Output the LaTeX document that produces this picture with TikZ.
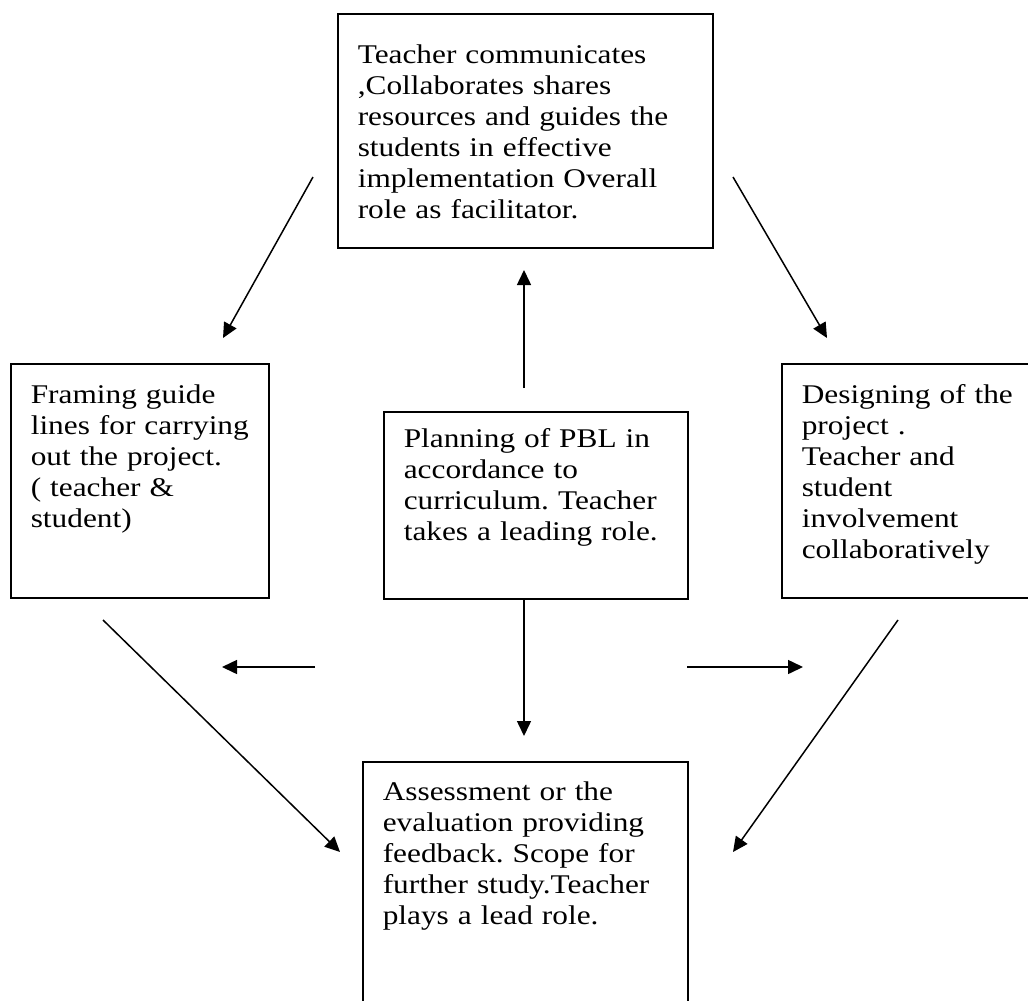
\documentclass[tikz,border=0pt]{standalone}
\usepackage{fontspec}
\setmainfont[FakeStretch = 1.16]{Liberation Serif}
\usetikzlibrary{arrows.meta}
\newcommand\padleft{\leftskip = 20pt\relax\frenchspacing}

\begin{document}
\begin{tikzpicture} [x = 1pt, y = -1pt,
    card/.style = {draw, line width = 1.6pt, anchor = north west,
      align = left, inner xsep = 0pt, inner ysep = 0pt,
      font = \fontsize{27pt}{31pt}\selectfont},
    flow/.style = {line width = 1.5pt,
      -{Triangle[length = 15pt, width = 14pt]}}]
    \useasboundingbox (0, 0) rectangle (1028, 1001);
    \clip (0, 0) rectangle (1028, 1001);

    \node[card, text width = 375pt, text height = 50pt, text depth = 184pt]
      (role) at (337, 13)
      {\padleft Teacher communicates\\ ,Collaborates shares\\ resources and guides the\\
       students in effective\\ implementation Overall\\ role as facilitator.\par};
    \node[card, text width = 258pt, text height = 40pt, text depth = 194pt]
      (frame) at (10, 363)
      {\padleft Framing guide\\ lines for carrying\\ out the project.\\ ( teacher \&\\ student)\par};
    \node[card, text width = 304pt, text height = 36pt, text depth = 151pt]
      (plan) at (383, 411)
      {\padleft Planning of PBL in\\ accordance to\\ curriculum. Teacher\\ takes a leading role.\par};
    \node[card, text width = 300pt, text height = 40pt, text depth = 194pt]
      (design) at (781, 363)
      {\padleft Designing of the\\ project .\\ Teacher and\\ student\\ involvement\\ collaboratively\par};
    \node[card, text width = 325pt, text height = 39pt, text depth = 281pt]
      (assess) at (362, 761)
      {\padleft Assessment or the\\ evaluation providing\\ feedback. Scope for\\
       further study.Teacher\\ plays a lead role.\par};

    \coordinate (up-s) at (524, 388);
    \coordinate (up-e) at (524, 270);
    \coordinate (down-s) at (524, 598);
    \coordinate (down-e) at (524, 736);
    \coordinate (tl-s) at (313, 177);
    \coordinate (tl-e) at (223, 338);
    \coordinate (tr-s) at (733, 177);
    \coordinate (tr-e) at (827, 338);
    \coordinate (hl-s) at (315, 667);
    \coordinate (hl-e) at (222, 667);
    \coordinate (hr-s) at (687, 667);
    \coordinate (hr-e) at (803, 667);
    \coordinate (bl-s) at (103, 620);
    \coordinate (bl-e) at (340, 852);
    \coordinate (br-s) at (898, 620);
    \coordinate (br-e) at (733, 852);

    \draw[flow] (up-s) -- (up-e);
    \draw[flow] (down-s) -- (down-e);
    \draw[flow] (tl-s) -- (tl-e);
    \draw[flow] (tr-s) -- (tr-e);
    \draw[flow] (hl-s) -- (hl-e);
    \draw[flow] (hr-s) -- (hr-e);
    \draw[flow] (bl-s) -- (bl-e);
    \draw[flow] (br-s) -- (br-e);
  \end{tikzpicture}
\end{document}
